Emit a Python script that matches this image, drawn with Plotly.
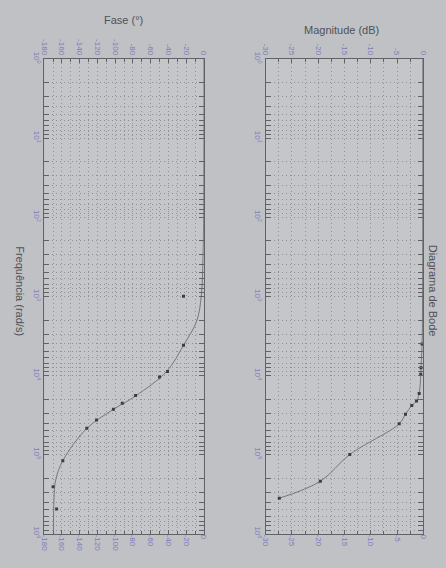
import plotly.graph_objects as go

# ---- data ----
freq_mag_pts = [4000, 8000, 9700, 17000, 21000, 24000, 31000, 41000, 100000, 218000, 357000]
mag_pts = [-0.25, -0.45, -0.5, -0.8, -1.3, -2.2, -3.4, -4.6, -14.0, -19.6, -27.4]
freq_mag_curve = [1, 1000, 4000, 8000, 9700, 17000, 21000, 24000, 31000, 41000, 100000, 218000, 357000]
mag_curve = [-0.1, -0.15, -0.25, -0.45, -0.5, -0.8, -1.3, -2.2, -3.4, -4.6, -14.0, -19.6, -27.4]

freq_phase_pts = [1000, 4150, 8900, 10500, 18000, 22500, 26700, 36600, 46500, 120000, 255000, 490000]
phase_pts = [-23, -23, -41, -50, -77, -92, -102, -121, -132, -159, -170, -166]
freq_phase_curve = [1, 100, 316, 1000, 2040, 4170, 8900, 18200, 26900, 46800, 120000, 209000, 372000, 1000000]
phase_curve = [0, -0.3, -1, -3, -8, -23, -42, -77, -102, -132, -159, -167, -169, -169.5]

mag_ticks = [-30, -25, -20, -15, -10, -5, 0]
phase_ticks = [-180, -160, -140, -120, -100, -80, -60, -40, -20, 0]
freq_ticks = [1, 10, 100, 1000, 10000, 100000, 1000000]
freq_ticktext = ["10<sup>0</sup>", "10<sup>1</sup>", "10<sup>2</sup>", "10<sup>3</sup>",
                 "10<sup>4</sup>", "10<sup>5</sup>", "10<sup>6</sup>"]
freq_minor = [k * 10 ** d for d in range(6) for k in range(2, 10)]

W, H = 446, 568
BG = "#bfc1c5"
PLOT_BG = "#c4c6c9"
LINE = "#606266"
GRID = "#8f9195"
DOT = "1px,3px"
HAND = "#7f7bbd"
TXT = "#505256"

fig = go.Figure()

# phase panel (left)
fig.add_trace(go.Scatter(x=phase_curve, y=freq_phase_curve, xaxis="x", yaxis="y",
                         mode="lines", line=dict(color="#75777b", width=1, shape="spline"),
                         showlegend=False, hoverinfo="skip"))
fig.add_trace(go.Scatter(x=phase_pts, y=freq_phase_pts, xaxis="x", yaxis="y",
                         mode="markers", marker=dict(color="#3c3e42", size=3, symbol="square"),
                         showlegend=False))
# magnitude panel (right)
fig.add_trace(go.Scatter(x=mag_curve, y=freq_mag_curve, xaxis="x2", yaxis="y2",
                         mode="lines", line=dict(color="#75777b", width=1, shape="spline"),
                         showlegend=False, hoverinfo="skip"))
fig.add_trace(go.Scatter(x=mag_pts, y=freq_mag_pts, xaxis="x2", yaxis="y2",
                         mode="markers", marker=dict(color="#3c3e42", size=3, symbol="square"),
                         showlegend=False))
# invisible traces for the bottom label axes
fig.add_trace(go.Scatter(x=[-90], y=[1000], xaxis="x3", yaxis="y", mode="markers",
                         marker=dict(opacity=0), showlegend=False, hoverinfo="skip"))
fig.add_trace(go.Scatter(x=[-15], y=[1000], xaxis="x4", yaxis="y2", mode="markers",
                         marker=dict(opacity=0), showlegend=False, hoverinfo="skip"))

x_ph = [40 / W, 203 / W]
x_mg = [266 / W, 427 / W]
y_dom = [1 - 538 / H, 1 - 53 / H]

tickfont = dict(family="Liberation Sans, Arial, sans-serif", size=8, color=HAND)

common_x = dict(showline=True, linecolor=LINE, linewidth=1, mirror="allticks",
                ticks="inside", ticklen=4, tickcolor=LINE, tickangle=90,
                showgrid=True, gridcolor=GRID, griddash=DOT, gridwidth=1,
                zeroline=False, tickfont=tickfont, side="top", fixedrange=True)

fig.update_layout(
    width=W, height=H,
    margin=dict(l=0, r=0, t=0, b=0),
    paper_bgcolor=BG, plot_bgcolor=PLOT_BG,
    xaxis=dict(domain=x_ph, anchor="y", range=[-180, 0], tickmode="array",
               tickvals=phase_ticks, ticktext=[str(v) for v in phase_ticks],
               minor=dict(dtick=10, ticks="inside", ticklen=3, tickcolor=LINE,
                          showgrid=True, gridcolor=GRID, griddash=DOT),
               **common_x),
    xaxis2=dict(domain=x_mg, anchor="y2", range=[-30, 0], tickmode="array",
                tickvals=mag_ticks, ticktext=[str(v) for v in mag_ticks],
                minor=dict(dtick=2.5, ticks="inside", ticklen=3, tickcolor=LINE,
                           showgrid=True, gridcolor=GRID, griddash=DOT),
                **common_x),
    xaxis3=dict(overlaying="x", anchor="y", side="bottom", range=[-180, 0],
                tickmode="array", tickvals=phase_ticks,
                ticktext=[str(v) for v in phase_ticks], tickangle=90,
                showgrid=False, showline=False, ticks="", zeroline=False,
                tickfont=tickfont, fixedrange=True),
    xaxis4=dict(overlaying="x2", anchor="y2", side="bottom", range=[-30, 0],
                tickmode="array", tickvals=mag_ticks,
                ticktext=[str(v) for v in mag_ticks], tickangle=90,
                showgrid=False, showline=False, ticks="", zeroline=False,
                tickfont=tickfont, fixedrange=True),
)

common_y = dict(type="log", range=[6, 0], domain=y_dom, tickmode="array",
                tickvals=freq_ticks, ticktext=freq_ticktext, tickangle=90,
                showline=True, linecolor=LINE, linewidth=1, mirror="allticks",
                ticks="inside", ticklen=5, tickcolor=LINE,
                showgrid=True, gridcolor=GRID, griddash=DOT,
                minor=dict(tickmode="array", tickvals=freq_minor, ticks="inside",
                           ticklen=3, tickcolor=LINE, showgrid=True,
                           gridcolor=GRID, griddash=DOT),
                zeroline=False, tickfont=tickfont, fixedrange=True)
fig.update_layout(yaxis=dict(anchor="x", **common_y),
                  yaxis2=dict(anchor="x2", **common_y))

afont = dict(family="Liberation Sans, Arial, sans-serif", size=11, color=TXT)
fig.add_annotation(x=121 / W, y=1 - 13 / H, xref="paper", yref="paper",
                   xanchor="center", yanchor="middle",
                   text="Fase (°)", showarrow=False, font=afont)
fig.add_annotation(x=343 / W, y=1 - 23 / H, xref="paper", yref="paper",
                   xanchor="center", yanchor="middle",
                   text="Magnitude (dB)", showarrow=False, font=afont)
fig.add_annotation(x=437 / W, y=1 - 290 / H, xref="paper", yref="paper",
                   xanchor="center", yanchor="middle",
                   text="Diagrama de Bode", textangle=90, showarrow=False, font=afont)
fig.add_annotation(x=15 / W, y=1 - 290 / H, xref="paper", yref="paper",
                   xanchor="center", yanchor="middle",
                   text="Frequência (rad/s)", textangle=90, showarrow=False, font=afont)

fig.write_html("out.html")
